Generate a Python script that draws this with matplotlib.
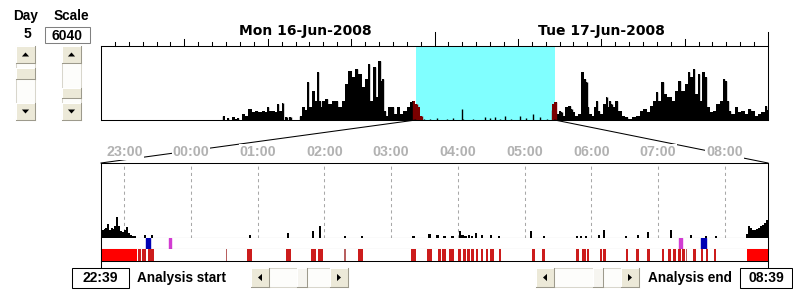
import numpy as np
import matplotlib
matplotlib.use('Agg')
import matplotlib.pyplot as plt
from matplotlib.patches import Rectangle, Polygon

# ---------------- data ----------------
day_number = "5"
scale_value = "6040"
date_labels = ["Mon 16-Jun-2008", "Tue 17-Jun-2008"]
date_label_hours = [14.7, 36.0]
analysis_start = "22:39"
analysis_end = "08:39"
window_hours = 10

# overview activity (hours since Mon 00:00, height units)
ov_hours = [8.80, 8.99, 9.16, 9.33, 9.52, 9.71, 9.88, 10.05, 10.24, 10.48, 10.72, 10.96,
            11.20, 11.44, 11.68, 11.92, 12.04, 12.21, 12.40, 12.59, 12.76, 12.93, 13.07,
            13.17, 13.36, 13.48, 13.65, 13.76, 14.25, 14.32, 14.56, 14.75, 14.92, 15.04,
            15.28, 15.47, 15.64, 15.76, 15.88, 16.00, 16.24, 16.47, 16.71, 16.95, 17.19,
            17.43, 17.67, 17.91, 18.15, 18.39, 18.63, 18.87, 19.11, 19.30, 19.47, 19.71,
            19.83, 20.07, 20.19, 20.31, 20.43, 20.55, 20.79, 21.03, 21.15, 21.39, 21.63,
            21.87, 22.11, 22.35, 22.47, 22.71, 22.83, 23.07,
            23.24, 23.67, 24.15, 24.87, 25.35, 25.95, 26.07, 26.79, 27.63, 27.99, 28.35,
            28.71, 29.06, 29.54, 30.14, 30.62, 31.10, 31.58, 32.06,
            32.42, 32.54, 32.73, 32.90, 33.02, 33.14, 33.26, 33.50, 33.74, 33.86, 33.98,
            34.22, 34.46, 34.65, 34.82, 34.94, 35.06, 35.18, 35.42, 35.54, 35.66, 35.85,
            36.02, 36.26, 36.38, 36.50, 36.62, 36.74, 36.86, 37.10, 37.34, 37.58, 37.82,
            38.06, 38.30, 38.66, 38.90, 39.14, 39.38, 39.62, 39.86, 39.98, 40.22, 40.41,
            40.58, 40.94, 41.18, 41.41, 41.65, 41.89, 42.13, 42.33, 42.49, 42.66, 42.85,
            43.05, 43.21, 43.33, 43.57, 43.69, 43.93, 44.17, 44.41, 44.65, 44.82, 44.96,
            45.13, 45.25, 45.49, 45.73, 45.97, 46.21, 46.45, 46.69, 46.93, 47.17, 47.41,
            47.65, 47.89, 47.98]
ov_vals = [4, 0, 2, 0, 3, 1, 2, 0, 6, 4, 11, 8,
           9, 8, 9, 8, 13, 9, 9, 8, 16, 9, 17,
           0, 3, 0, 3, 0, 0, 4, 13, 10, 38, 13,
           29, 19, 48, 19, 13, 19, 21, 16, 19, 19, 13,
           19, 36, 49, 43, 51, 46, 33, 41, 56, 19, 53,
           23, 59, 39, 41, 9, 4, 13, 13, 6, 13, 6,
           9, 13, 18, 19, 16, 13, 4,
           1, 1, 2, 1, 2, 11, 1, 1, 3, 2, 3,
           1, 4, 1, 4, 2, 6, 3, 1,
           10, 16, 18, 6, 9, 8, 4, 13, 14, 11, 8,
           4, 6, 48, 41, 38, 13, 6, 4, 13, 19, 9,
           6, 16, 23, 13, 19, 16, 13, 19, 9, 4, 3,
           1, 3, 4, 9, 11, 8, 14, 19, 28, 19, 38,
           26, 23, 19, 29, 39, 29, 36, 48, 43, 51, 26,
           46, 19, 48, 43, 13, 8, 9, 16, 19, 41, 39,
           19, 9, 6, 13, 8, 9, 6, 11, 9, 4, 6,
           8, 14, 10]
ov_highlight = [(22.42, 23.10), (32.38, 32.80)]

# detail activity (minutes since analysis start)
det_min = [0, 1.8, 3.6, 4.9, 6.3, 8.1, 9.9, 11.7, 13.0, 14.4, 16.2, 18.0, 19.8, 21.6,
           23.4, 25.2, 26.9, 28.7, 30.5,
           39.5, 45.8, 133.8, 168.0, 190.4, 196.7, 219.2, 234.4, 281.1, 295.5, 302.7,
           309.0, 316.2, 323.1, 325.2, 327.9, 331.4, 334.1, 337.5, 343.1, 350.9, 358.4,
           387.1, 398.8, 428.5, 432.0, 436.5, 448.2, 452.7, 472.2, 483.3, 492.2, 512.6,
           530.6, 544.0, 553.0,
           581.5, 583.0, 584.8, 586.5, 588.2, 590.0, 591.8, 593.6, 595.4, 597.2, 599.0]
det_vals = [8, 8, 9, 10, 14, 8, 10, 9, 12, 21, 12, 7, 6, 8,
            11, 5, 3, 2, 2,
            3, 3, 3, 5, 7, 12, 2, 2, 2, 4, 3,
            2, 2, 7, 3, 2, 3, 2, 5, 3, 3, 2,
            7, 2, 2, 2, 2, 3, 8, 2, 3, 6, 8,
            3, 2, 2,
            4, 12, 10, 8, 8, 9, 10, 12, 13, 15, 18]

# event markers (minutes since analysis start)
blue_marks = [(40.4, 44.0), (539.8, 544.3)]
magenta_marks = [(61.0, 63.0), (520.1, 522.8)]

# red strip intervals (minutes since analysis start)
red_intervals = [(0, 32.3), (33.7, 36), (37.3, 40.9), (42.3, 47.6), (112, 113),
                 (131.4, 135.6), (166.2, 170.7), (188.6, 193.1), (194.9, 199.4),
                 (218.7, 220), (230.8, 235.3), (279.3, 283.8), (293.7, 298.2),
                 (302.7, 306.0), (306.6, 309.9), (312.6, 317.1), (320.7, 323.4),
                 (325.2, 327.9), (328.8, 331.5), (333, 335.9), (337.7, 339.5),
                 (342.2, 344), (346.7, 348.5), (350.3, 353.9), (358.4, 360.2),
                 (388, 390.7), (397, 399.7), (427.6, 430.3), (433, 436), (437.4, 439.2),
                 (449, 451), (452, 454.5), (472.5, 474.3), (481.5, 484.2), (491.3, 494),
                 (504.8, 506.6), (510.2, 512.9), (514.7, 517.4), (519.2, 521.9),
                 (522.8, 525.5), (526.4, 527.3), (532.7, 535.3), (539.8, 541.6),
                 (544.3, 546.1), (551.5, 553.3), (581.2, 600)]

# ---------------- figure ----------------
W, H = 793, 293
fig = plt.figure(figsize=(W / 100, H / 100), dpi=100)
fig.patch.set_facecolor('white')
LW = 0.75
BOLD = dict(family='Liberation Sans', fontweight='bold')


def add_px_axes(x0, y0, x1, y1, **kw):
    return fig.add_axes([x0 / W, 1 - y1 / H, (x1 - x0) / W, (y1 - y0) / H], **kw)


def clean(ax, spines=('left', 'right', 'top', 'bottom')):
    ax.set_xticks([])
    ax.set_yticks([])
    for k, s in ax.spines.items():
        s.set_visible(k in spines)
        s.set_linewidth(LW)
        s.set_color('black')


sh, sm = map(int, analysis_start.split(':'))
start_h = sh + sm / 60.0
end_h = start_h + window_hours
win_min = window_hours * 60

# overview
ov = add_px_axes(101, 46, 768, 120)
clean(ov)
ov.set_xlim(0, 48)
ov.set_ylim(0, 74)
ov.axvspan(start_h, end_h, color='#80ffff', lw=0, zorder=0)
h = np.array(ov_hours)
v = np.array(ov_vals)
hl = np.zeros(len(h), bool)
for a, b in ov_highlight:
    hl |= (h >= a) & (h <= b)
outside = (h < start_h) | (h > end_h) | hl
ov.fill_between(h, v, where=outside, step='mid', color='black', lw=0, zorder=2)
ov.fill_between(h, v, where=hl, step='mid', color='#7a0000', lw=0, zorder=3)
ov.vlines(h, 0, v, colors=np.where(hl, '#7a0000', 'black'), lw=1.0, zorder=3)
# ticks on top
xa = ov.get_xaxis_transform()
for hr in range(1, 49):
    if hr % 24 == 0:
        ln = 14
    elif hr % 6 == 0:
        ln = 7
    else:
        ln = 4
    ov.plot([hr, hr], [1, 1 + ln / 74], transform=xa, color='black', lw=LW,
            clip_on=False, zorder=5)
for lab, hx in zip(date_labels, date_label_hours):
    ov.text(hx, 1 + 15 / 74, lab, transform=xa, ha='center', va='center',
            fontsize=10, fontweight='bold', family='DejaVu Sans')

# detail activity
det = add_px_axes(101, 163, 768, 238)
clean(det, ('left', 'right', 'top', 'bottom'))
det.set_xlim(0, win_min)
det.set_ylim(0, 75)
hour_ticks = []
hour_labels = []
m = 60 - sm
hr = (sh + 1) % 24
while m < win_min:
    hour_ticks.append(m)
    hour_labels.append(f"{hr:02d}:00")
    m += 60
    hr = (hr + 1) % 24
det.vlines(hour_ticks, 0, 75, colors='#a8a8a8', linestyles=(0, (3, 3)), lw=LW, zorder=1)
det.bar(det_min, det_vals, width=1.9, align='center', color='black', lw=0, zorder=2)

# markers strip
mk = add_px_axes(101, 238, 768, 249)
clean(mk, ('left', 'right', 'bottom'))
mk.set_xlim(0, win_min)
mk.set_ylim(0, 1)
mk.broken_barh([(a, b - a) for a, b in blue_marks], (0, 1), color='#0000b4')
mk.broken_barh([(a, b - a) for a, b in magenta_marks], (0, 1), color='#d23cd2')

# red strip
rs = add_px_axes(101, 249, 768, 261)
clean(rs, ('left', 'right', 'bottom'))
rs.set_xlim(0, win_min)
rs.set_ylim(0, 1)
for a, b in red_intervals:
    d = b - a
    col = '#ff0000' if d > 10 else ('#b86060' if d < 1.5 else '#cc1c1c')
    rs.broken_barh([(a, d)], (0.04, 0.96), color=col, lw=0)

# ---------------- UI overlay ----------------
ui = fig.add_axes([0, 0, 1, 1], zorder=10)
ui.set_xlim(0, W)
ui.set_ylim(H, 0)
ui.axis('off')
ui.patch.set_alpha(0)


def to_ui(ax, x, y):
    return ui.transData.inverted().transform(ax.transData.transform((x, y)))


# zoom lines
p1 = to_ui(ov, start_h, 0)
p2 = to_ui(det, 0, 75)
p3 = to_ui(ov, end_h, 0)
p4 = to_ui(det, win_min, 75)
ui.plot([p1[0], p2[0]], [p1[1], p2[1]], color='black', lw=LW)
ui.plot([p3[0], p4[0]], [p3[1], p4[1]], color='black', lw=LW)
for t, lab in zip(hour_ticks, hour_labels):
    x = to_ui(det, t, 0)[0]
    ui.text(x, 152, lab, ha='center', va='center', color='#b2b2b2', fontsize=10.3,
            family='Liberation Sans', fontweight='bold',
            bbox=dict(fc='white', ec='none', pad=0.6), zorder=5)

# side lines down to the time boxes
xl = to_ui(det, 0, 0)[0]
xr = to_ui(det, win_min, 0)[0]
ui.plot([xl, xl], [261, 268], color='black', lw=LW)
ui.plot([xr, xr], [261, 268], color='black', lw=LW)


def bevel(x0, y0, x1, y1, face='#ece9d8'):
    ui.add_patch(Rectangle((x0, y0), x1 - x0, y1 - y0, fc=face, ec='none', zorder=3))
    ui.plot([x0, x1], [y0, y0], color='white', lw=LW, zorder=4)
    ui.plot([x0, x0], [y0, y1], color='white', lw=LW, zorder=4)
    ui.plot([x0, x1], [y1, y1], color='#9d9a8c', lw=LW, zorder=4)
    ui.plot([x1, x1], [y0, y1], color='#9d9a8c', lw=LW, zorder=4)


def arrow(cx, cy, d):
    a, b = 3.6, 2.0
    if d == 'up':
        pts = [(cx - a, cy + b), (cx + a, cy + b), (cx, cy - b)]
    elif d == 'down':
        pts = [(cx - a, cy - b), (cx + a, cy - b), (cx, cy + b)]
    elif d == 'left':
        pts = [(cx + b, cy - a), (cx + b, cy + a), (cx - b, cy)]
    else:
        pts = [(cx - b, cy - a), (cx - b, cy + a), (cx + b, cy)]
    ui.add_patch(Polygon(pts, closed=True, fc='black', ec='none', zorder=5))


def vscroll(x0, x1, y0, y1, t0, t1):
    ui.add_patch(Rectangle((x0, y0), x1 - x0, y1 - y0, fc='#fdfdfb', ec='#d8d6cc',
                           lw=LW, zorder=2))
    bevel(x0, y0, x1, y0 + 17)
    arrow((x0 + x1) / 2, y0 + 8.5, 'up')
    bevel(x0, y1 - 17, x1, y1)
    arrow((x0 + x1) / 2, y1 - 8.5, 'down')
    bevel(x0, t0, x1, t1)


def hscroll(x0, x1, y0, y1, t0, t1):
    ui.add_patch(Rectangle((x0, y0), x1 - x0, y1 - y0, fc='#fdfdfb', ec='#d8d6cc',
                           lw=LW, zorder=2))
    bevel(x0, y0, x0 + 18, y1)
    arrow(x0 + 9, (y0 + y1) / 2, 'left')
    bevel(x1 - 18, y0, x1, y1)
    arrow(x1 - 9, (y0 + y1) / 2, 'right')
    bevel(t0, y0, t1, y1, face='#f6f5f0')


# top-left controls
ui.text(25.5, 16, "Day", ha='center', va='center', fontsize=9.8, **BOLD)
ui.text(71, 16, "Scale", ha='center', va='center', fontsize=9.8, **BOLD)
ui.text(27, 34, day_number, ha='center', va='center', fontsize=10, **BOLD)
ui.add_patch(Rectangle((45, 27), 45, 16, fc='white', ec='#808080', lw=LW, zorder=2))
ui.text(67.5, 35.5, scale_value, ha='center', va='center', fontsize=10, zorder=3, **BOLD)
vscroll(16, 35, 46, 120, 68, 79)
vscroll(62, 81, 46, 120, 88, 98)

# bottom controls
ui.add_patch(Rectangle((72, 268), 57, 20, fc='white', ec='black', lw=LW, zorder=2))
ui.text(100.5, 278.5, analysis_start, ha='center', va='center', fontsize=10, zorder=3, **BOLD)
ui.text(137, 278, "Analysis start", ha='left', va='center', fontsize=9.8, **BOLD)
hscroll(251, 348, 268, 287, 297, 307)
hscroll(536, 639, 268, 287, 593, 603)
ui.text(648, 278, "Analysis end", ha='left', va='center', fontsize=9.8, **BOLD)
ui.add_patch(Rectangle((740, 268), 52, 20, fc='white', ec='black', lw=LW, zorder=2))
ui.text(766, 278.5, analysis_end, ha='center', va='center', fontsize=10, zorder=3, **BOLD)

fig.savefig('out.png', dpi=100)
